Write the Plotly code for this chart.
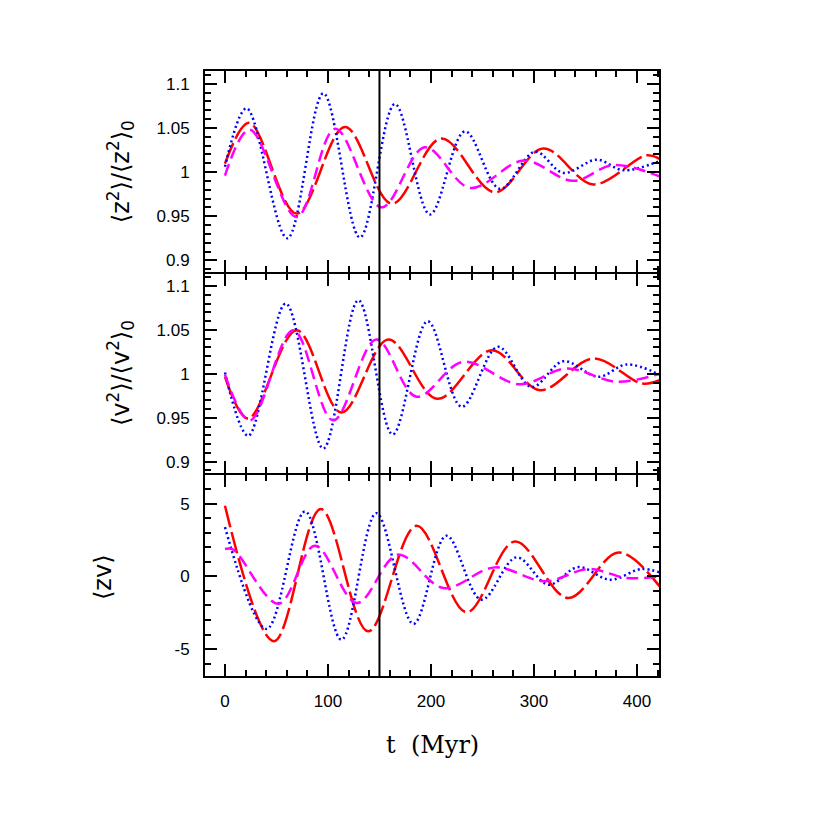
import plotly.graph_objects as go

# ---------------- data ----------------
# Top panel: <z^2>/<z^2>_0
z2_red_t = [0, 23.6, 69.6, 116.5, 162, 210, 262, 309, 357.6, 409, 422]
z2_red_y = [1.0095, 1.0557, 0.953, 1.051, 0.964, 1.038, 0.977, 1.0266, 0.986, 1.019, 1.015]
z2_blue_t = [0, 21, 60.5, 95.5, 131, 165, 199, 233, 267, 301, 328.5, 361, 387, 422]
z2_blue_y = [1.006, 1.072, 0.925, 1.089, 0.926, 1.077, 0.952, 1.046, 0.981, 1.023, 0.999, 1.014, 1.002, 1.0125]
z2_mag_t = [0, 24, 69.6, 107, 152, 194, 238, 290, 338, 377, 422]
z2_mag_y = [0.996, 1.048, 0.949, 1.049, 0.960, 1.028, 0.982, 1.013, 0.990, 1.008, 0.995]

# Middle panel: <v^2>/<v^2>_0
v2_red_t = [0, 22.6, 69.6, 113, 158.6, 206, 259, 305.8, 357.6, 404.6, 422]
v2_red_y = [0.9966, 0.949, 1.0496, 0.956, 1.039, 0.9715, 1.0268, 0.9814, 1.0174, 0.989, 0.9928]
v2_blue_t = [0, 22.6, 59, 95.5, 129.5, 162.8, 196.8, 229.8, 265, 297.7, 328.5, 362.4, 390, 422]
v2_blue_y = [1.0015, 0.9295, 1.080, 0.915, 1.0837, 0.931, 1.0598, 0.9625, 1.0307, 0.985, 1.0143, 0.9966, 1.0106, 0.999]
v2_mag_t = [0, 24.3, 66.3, 105, 147, 186, 231, 286, 331.7, 380, 422]
v2_mag_y = [0.999, 0.947, 1.0496, 0.947, 1.039, 0.974, 1.0136, 0.988, 1.006, 0.991, 1.0]

# Bottom panel: <zv>
zv_red_t = [0, 47.6, 93, 139, 186, 234.6, 281.5, 333, 382, 422]
zv_red_y = [4.86, -4.46, 4.63, -3.78, 3.48, -2.47, 2.40, -1.49, 1.65, -0.69]
zv_blue_t = [0, 40.5, 77.7, 113, 147, 183, 215, 249, 283, 314, 343, 374, 404.5, 422]
zv_blue_y = [3.39, -3.61, 4.47, -4.35, 4.35, -3.27, 2.80, -1.60, 1.31, -0.57, 0.64, -0.23, 0.51, 0.27]
zv_mag_t = [0, 8, 52, 87.4, 128, 168, 212, 262, 310.7, 353, 390, 422]
zv_mag_y = [1.88, 1.84, -1.88, 2.11, -1.83, 1.49, -0.80, 0.62, -0.34, 0.51, -0.11, 0.0]

x_ticks = [0, 100, 200, 300, 400]
ratio_ticks = [0.9, 0.95, 1.0, 1.05, 1.1]
ratio_labels = ["0.9", "0.95", "1", "1.05", "1.1"]
zv_ticks = [-5, 0, 5]
zv_labels = ["-5", "0", "5"]
t_marker = 150

# ---------------- styles ----------------
RED = dict(color="#ff0000", width=2.5, dash="22px,5px", shape="spline")
BLUE = dict(color="#0000ff", width=2.5, dash="2px,3px", shape="spline")
MAG = dict(color="#ff00ff", width=2.5, dash="12px,6px", shape="spline")

fig = go.Figure()

panels = [
    ("x3", "y3", [(z2_red_t, z2_red_y, RED), (z2_blue_t, z2_blue_y, BLUE), (z2_mag_t, z2_mag_y, MAG)]),
    ("x2", "y2", [(v2_red_t, v2_red_y, RED), (v2_blue_t, v2_blue_y, BLUE), (v2_mag_t, v2_mag_y, MAG)]),
    ("x", "y", [(zv_red_t, zv_red_y, RED), (zv_blue_t, zv_blue_y, BLUE), (zv_mag_t, zv_mag_y, MAG)]),
]
for xa, ya, series in panels:
    for t, y, st in series:
        fig.add_trace(go.Scatter(x=t, y=y, mode="lines", line=st, xaxis=xa, yaxis=ya,
                                 showlegend=False, hoverinfo="skip"))

TICKFONT = dict(family="Liberation Sans, Arial, sans-serif", size=17, color="black")
XRANGE = [-19.4, 421.4]

def xax(anchor, labels):
    return dict(anchor=anchor, domain=[0, 1], range=XRANGE, tickvals=x_ticks,
                showticklabels=labels, showline=True, linecolor="black", linewidth=2,
                mirror="ticks", ticks="inside", ticklen=12, tickwidth=1.5, tickcolor="black",
                minor=dict(ticks="inside", dtick=20, ticklen=6, tickwidth=1.5, tickcolor="black"),
                showgrid=False, zeroline=False, tickfont=TICKFONT, ticklabelstandoff=9)

def yax(anchor, dom, rng, tv, tt, mdt):
    return dict(anchor=anchor, domain=dom, range=rng, tickvals=tv, ticktext=tt,
                showline=True, linecolor="black", linewidth=2,
                mirror="ticks", ticks="inside", ticklen=12, tickwidth=1.5, tickcolor="black",
                minor=dict(ticks="inside", dtick=mdt, ticklen=6, tickwidth=1.5, tickcolor="black"),
                showgrid=False, zeroline=False, tickfont=TICKFONT, ticklabelstandoff=10)

PLOT_H = 605
d = 1.0 / PLOT_H  # half line width gap so adjacent panel frames coincide

fig.update_layout(
    width=830, height=830,
    margin=dict(l=197, r=179, t=63, b=830 - 63 - PLOT_H),
    paper_bgcolor="white", plot_bgcolor="white",
    xaxis=xax("y", True),
    xaxis2=dict(xax("y2", False), matches="x"),
    xaxis3=dict(xax("y3", False), matches="x"),
    yaxis=yax("x", [0, 1/3 - d], [-6.85, 6.95], zv_ticks, zv_labels, 1),
    yaxis2=yax("x2", [1/3 + d, 2/3 - d], [0.8867, 1.114], ratio_ticks, ratio_labels, 0.01),
    yaxis3=yax("x3", [2/3 + d, 1], [0.8872, 1.1144], ratio_ticks, ratio_labels, 0.01),
    shapes=[dict(type="line", xref="x", yref="paper", x0=t_marker, x1=t_marker, y0=0, y1=1,
                 line=dict(color="black", width=2))],
)

TITLEFONT = dict(family="DejaVu Sans, sans-serif", size=24, color="black")
fig.add_annotation(text="⟨z<sup>2</sup>⟩/⟨z<sup>2</sup>⟩<sub>0</sub>", xref="paper", yref="paper",
                   x=-0.187, y=0.833, textangle=-90, showarrow=False, font=TITLEFONT,
                   xanchor="center", yanchor="middle")
fig.add_annotation(text="⟨v<sup>2</sup>⟩/⟨v<sup>2</sup>⟩<sub>0</sub>", xref="paper", yref="paper",
                   x=-0.187, y=0.5008, textangle=-90, showarrow=False, font=TITLEFONT,
                   xanchor="center", yanchor="middle")
fig.add_annotation(text="⟨zv⟩", xref="paper", yref="paper",
                   x=-0.2247, y=0.1636, textangle=-90, showarrow=False, font=TITLEFONT,
                   xanchor="center", yanchor="middle")
fig.add_annotation(text="t\u00a0\u00a0(Myr)", xref="paper", yref="paper",
                   x=0.5, y=-0.114, showarrow=False,
                   font=dict(family="DejaVu Serif, serif", size=24, color="black"),
                   xanchor="center", yanchor="middle")

fig.write_html("out.html")
